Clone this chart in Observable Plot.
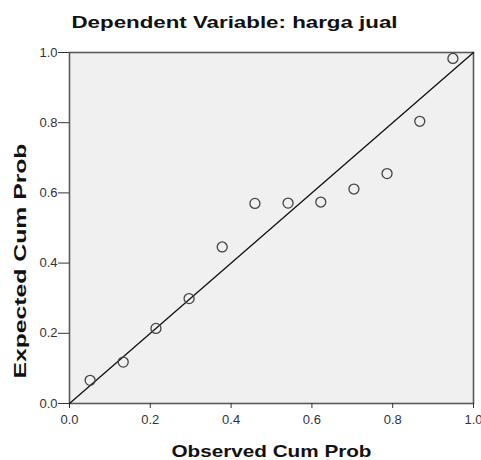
<!DOCTYPE html>
<html><head><meta charset="utf-8">
<script src="https://cdn.jsdelivr.net/npm/d3@7"></script>
<script src="https://cdn.jsdelivr.net/npm/@observablehq/plot@0.6"></script>
<style>body{margin:0;background:#fff;} svg{display:block}</style>
</head><body><div id="chart"></div>
<script>
const observedCumProb = [0.051, 0.133, 0.214, 0.296, 0.378, 0.459, 0.541, 0.622, 0.704, 0.786, 0.867, 0.949];
const expectedCumProb = [0.066, 0.118, 0.214, 0.299, 0.446, 0.570, 0.571, 0.574, 0.611, 0.655, 0.804, 0.983];
const tickValues = [0, 0.2, 0.4, 0.6, 0.8, 1.0];
const refX = [0, 1];
const refY = [0, 1];
const titleText = "Dependent Variable: harga jual";
const xLabel = "Observed Cum Prob";
const yLabel = "Expected Cum Prob";

const points = observedCumProb.map((x, i) => ({x, y: expectedCumProb[i]}));
const ref = refX.map((x, i) => ({x, y: refY[i]}));
const fmt = d3.format(".1f");
const FONT = "'Liberation Sans', Arial, Helvetica, sans-serif";

const plot = Plot.plot({
  width: 481, height: 460,
  marginLeft: 69, marginRight: 8, marginTop: 52, marginBottom: 57,
  style: {fontFamily: FONT, fontSize: "13px", color: "#333", background: "#fff"},
  x: {domain: [0, 1]},
  y: {domain: [0, 1]},
  marks: [
    Plot.frame({fill: "#f0f0f0", stroke: "#5a5a5a", strokeWidth: 1.6}),
    Plot.axisX({ticks: tickValues, tickFormat: fmt, tickSize: 5, tickPadding: 6, label: null, color: "#333", fontSize: 13}),
    Plot.axisY({ticks: tickValues, tickFormat: fmt, tickSize: 11, tickPadding: 1, label: null, color: "#333", fontSize: 13}),
    Plot.line(ref, {x: "x", y: "y", stroke: "#111", strokeWidth: 1.3}),
    Plot.dot(points, {x: "x", y: "y", r: 5, stroke: "#444", strokeWidth: 1.3, fill: "none"}),
    Plot.text([titleText], {text: d => d, frameAnchor: "top-left", textAnchor: "start", lineAnchor: "middle", dx: 2, dy: -30, fontSize: 17, fontWeight: "bold", fill: "#111"}),
    Plot.text([xLabel], {text: d => d, frameAnchor: "bottom-left", textAnchor: "start", lineAnchor: "middle", dx: 102, dy: 47.6, fontSize: 17, fontWeight: "bold", fill: "#111"}),
    Plot.text([yLabel], {text: d => d, frameAnchor: "left", textAnchor: "start", lineAnchor: "middle", rotate: -90, dx: -49.4, dy: 150.5, fontSize: 17, fontWeight: "bold", fill: "#111"})
  ]
});
document.getElementById("chart").append(plot);

const lengths = {[titleText]: 326, [xLabel]: 200, [yLabel]: 235};
d3.select(plot).selectAll("text").each(function() {
  const t = this.textContent;
  if (lengths[t]) {
    d3.select(this).attr("textLength", lengths[t]).attr("lengthAdjust", "spacingAndGlyphs");
  }
});
</script>
</body></html>
